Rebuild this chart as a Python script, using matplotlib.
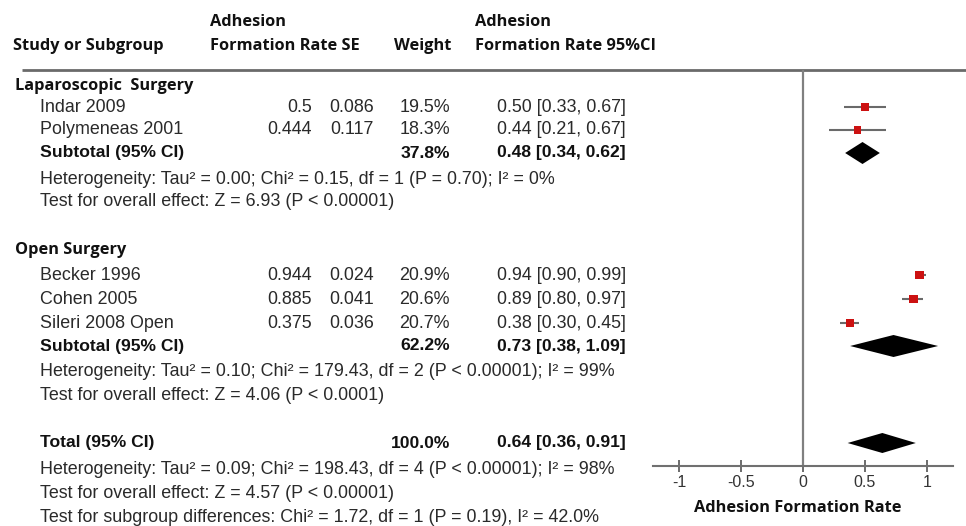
import numpy as np
import matplotlib
matplotlib.use("Agg")
import matplotlib.pyplot as plt
from matplotlib.patches import Polygon

# ── data ───────────────────────────────────────────
lap_names = ["Indar 2009", "Polymeneas 2001"]
lap_rate  = [0.5, 0.444]
lap_se    = [0.086, 0.117]
lap_wt    = [19.5, 18.3]
lap_est   = [0.50, 0.44]
lap_lo    = [0.33, 0.21]
lap_hi    = [0.67, 0.67]
lap_sub   = (37.8, 0.48, 0.34, 0.62)

open_names = ["Becker 1996", "Cohen 2005", "Sileri 2008 Open"]
open_rate  = [0.944, 0.885, 0.375]
open_se    = [0.024, 0.041, 0.036]
open_wt    = [20.9, 20.6, 20.7]
open_est   = [0.94, 0.89, 0.38]
open_lo    = [0.90, 0.80, 0.30]
open_hi    = [0.99, 0.97, 0.45]
open_sub   = (62.2, 0.73, 0.38, 1.09)

total      = (100.0, 0.64, 0.36, 0.91)

lap_stats = ["Heterogeneity: Tau\u00b2 = 0.00; Chi\u00b2 = 0.15, df = 1 (P = 0.70); I\u00b2 = 0%",
             "Test for overall effect: Z = 6.93 (P < 0.00001)"]
open_stats = ["Heterogeneity: Tau\u00b2 = 0.10; Chi\u00b2 = 179.43, df = 2 (P < 0.00001); I\u00b2 = 99%",
              "Test for overall effect: Z = 4.06 (P < 0.0001)"]
total_stats = ["Heterogeneity: Tau\u00b2 = 0.09; Chi\u00b2 = 198.43, df = 4 (P < 0.00001); I\u00b2 = 98%",
               "Test for overall effect: Z = 4.57 (P < 0.00001)",
               "Test for subgroup differences: Chi\u00b2 = 1.72, df = 1 (P = 0.19), I\u00b2 = 42.0%"]

xticks = [-1, -0.5, 0, 0.5, 1]
xtick_labels = ["-1", "-0.5", "0", "0.5", "1"]

# ── layout (pixel rows from top) ───────────────────
W, H = 966, 526
lap_head_y = 86
lap_rows   = [107, 130]
lap_sub_y  = 153
lap_stat_y = [180, 202]
open_head_y = 250
open_rows   = [275, 299, 323]
open_sub_y  = 346
open_stat_y = [372, 395]
total_y     = 443
total_stat_y = [470, 494, 517]
axis_y, top_y = 466, 70

body = dict(family="Liberation Sans", fontsize=12.9, color="#2a2a2a", va="center")
bold = dict(family="Liberation Sans", fontsize=12.6, color="#111111", va="center",
            fontweight="bold")
head = dict(family="Open Sans", fontsize=11.8, color="#111111", va="center",
            fontweight="bold")

fig = plt.figure(figsize=(W / 100, H / 100), dpi=100)
ax = fig.add_axes([0, 0, 1, 1])
ax.set_xlim(0, W)
ax.set_ylim(H, 0)
ax.axis("off")

# header
ax.text(13, 46, "Study or Subgroup", **head)
ax.text(210, 22, "Adhesion", **head)
ax.text(210, 46, "Formation Rate SE", **head)
ax.text(451, 46, "Weight", ha="right", **head)
ax.text(475, 22, "Adhesion", **head)
ax.text(475, 46, "Formation Rate 95%CI", **head)
ax.plot([22, W], [top_y, top_y], color="#6a6a6a", lw=2, solid_capstyle="butt")


def study_rows(names, rate, se, wt, est, lo, hi, ys):
    for i, y in enumerate(ys):
        ax.text(40, y, names[i], **body)
        ax.text(312, y, f"{rate[i]:g}", ha="right", **body)
        ax.text(374, y, f"{se[i]:.3f}", ha="right", **body)
        ax.text(450, y, f"{wt[i]:.1f}%", ha="right", **body)
        ax.text(626, y, f"{est[i]:.2f} [{lo[i]:.2f}, {hi[i]:.2f}]", ha="right", **body)


def summary_row(label, vals, y):
    w, e, l, h = vals
    ax.text(40, y, label, **bold)
    ax.text(450, y, f"{w:.1f}%", ha="right", **bold)
    ax.text(626, y, f"{e:.2f} [{l:.2f}, {h:.2f}]", ha="right", **bold)


ax.text(15, lap_head_y, "Laparoscopic  Surgery", **head)
study_rows(lap_names, lap_rate, lap_se, lap_wt, lap_est, lap_lo, lap_hi, lap_rows)
summary_row("Subtotal (95% CI)", lap_sub, lap_sub_y)
for s, y in zip(lap_stats, lap_stat_y):
    ax.text(40, y, s, **body)

ax.text(15, open_head_y, "Open Surgery", **head)
study_rows(open_names, open_rate, open_se, open_wt, open_est, open_lo, open_hi, open_rows)
summary_row("Subtotal (95% CI)", open_sub, open_sub_y)
for s, y in zip(open_stats, open_stat_y):
    ax.text(40, y, s, **body)

summary_row("Total (95% CI)", total, total_y)
for s, y in zip(total_stats, total_stat_y):
    ax.text(40, y, s, **body)

# ── forest panel ───────────────────────────────────
fx0, fx1 = 653, 953
fa = fig.add_axes([fx0 / W, 1 - axis_y / H, (fx1 - fx0) / W, (axis_y - top_y) / H])
fa.set_xlim(-1.21, 1.21)
fa.set_ylim(axis_y, top_y)
fa.patch.set_alpha(0)
for sp in ["top", "left", "right"]:
    fa.spines[sp].set_visible(False)
fa.spines["bottom"].set_color("#707070")
fa.spines["bottom"].set_linewidth(1.5)
fa.set_yticks([])
fa.set_xticks(xticks)
fa.set_xticklabels(xtick_labels, family="Liberation Sans", fontsize=11.5, color="#333333")
fa.tick_params(axis="x", direction="inout", length=9, width=1.3, color="#606060", pad=2)
fa.axvline(0, color="#808080", lw=1.6)

def draw_studies(est, lo, hi, wt, ys):
    fa.hlines(ys, lo, hi, color="#6a6a6a", lw=1.5)
    fa.scatter(est, ys, marker="s", s=[(w * 0.3) ** 2 for w in wt],
               color="#cc1111", edgecolors="none", zorder=3)

def draw_diamond(vals, y, half=11):
    _, e, l, h = vals
    fa.add_patch(Polygon([[l, y], [e, y - half], [h, y], [e, y + half]],
                         closed=True, color="black", lw=0))

draw_studies(lap_est, lap_lo, lap_hi, lap_wt, lap_rows)
draw_diamond(lap_sub, lap_sub_y)
draw_studies(open_est, open_lo, open_hi, open_wt, open_rows)
draw_diamond(open_sub, open_sub_y)
draw_diamond(total, total_y, half=10)

fig.text(798 / W, 1 - 508 / H, "Adhesion Formation Rate", ha="center", va="center",
         family="Open Sans", fontweight="bold", fontsize=11.8, color="#111111")

fig.savefig("out.png", dpi=100)
